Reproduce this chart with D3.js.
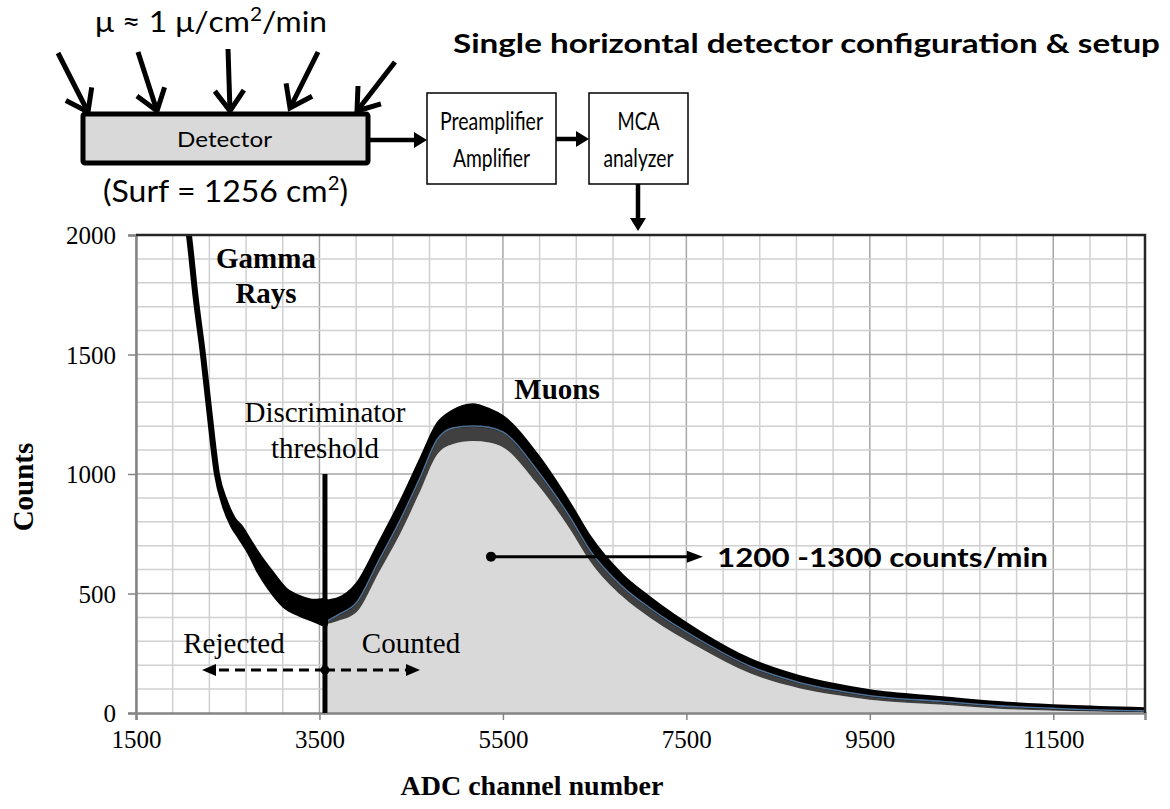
<!DOCTYPE html>
<html>
<head>
<meta charset="utf-8">
<script src="https://cdn.jsdelivr.net/npm/d3@7"></script>
<style>
  body { margin: 0; background: #fff; }
  svg { display: block; }
</style>
</head>
<body>
<div id="main"></div>
<script>
// ---- data ----
const xTicks = [1500, 3500, 5500, 7500, 9500, 11500];
const yTicks = [0, 500, 1000, 1500, 2000];
const threshold = 3560;

// gamma-ray part of the trace (left of the threshold)
const gammaCh    = [2040, 2077, 2150, 2230, 2300, 2382, 2470, 2557, 2640, 2742, 2851, 2960, 3123, 3287, 3450, 3560];
const gammaUpper = [2100, 2000, 1740, 1500, 1260, 1000, 885, 812, 775, 712, 648, 592, 515, 480, 465, 470];
const gammaLower = [2100, 2000, 1740, 1500, 1260, 1000, 865, 785, 735, 672, 590, 525, 450, 415, 390, 372];

// muon peak (right of the threshold): noisy upper edge, fit, noisy lower edge
const muonCh    = [3560, 3700, 3900, 4150, 4380, 4600, 4780, 4950, 5170, 5350, 5500, 5870, 6230, 6450, 6800, 7100, 7650, 8200, 8730, 9100, 9500, 10300, 10900, 11650, 12500];
const muonUpper = [470, 480, 540, 715, 885, 1065, 1210, 1265, 1292, 1272, 1242, 1085, 880, 740, 580, 485, 340, 225, 155, 122, 95, 66, 46, 30, 20];
const muonFit   = [380, 410, 460, 640, 807, 987, 1142, 1192, 1201, 1195, 1176, 1017, 820, 680, 530, 440, 305, 195, 128, 97, 72, 48, 30, 17, 9];
const muonLower = [370, 385, 420, 590, 750, 930, 1080, 1125, 1138, 1132, 1112, 960, 770, 635, 488, 400, 272, 165, 104, 77, 55, 34, 18, 8, 3];

const rateLabel = "1200 -1300 counts/min";
const rateAt = [5370, 650];   // dot of the rate arrow (channel, counts)
const rateTo = 7680;

// ---- layout ----
const W = 1170, H = 809;
const serif = "'Liberation Serif','Times New Roman',serif";
const sans = "Lato,'Open Sans',sans-serif";

const svg = d3.select("#main").append("svg")
  .attr("width", W).attr("height", H);

const x = d3.scaleLinear().domain([1500, 12500]).range([136, 1145]);
const y = d3.scaleLinear().domain([0, 2000]).range([713, 235]);

svg.append("clipPath").attr("id", "clip")
  .append("rect").attr("x", 136).attr("y", 235).attr("width", 1009).attr("height", 478);

// gridlines
const grid = svg.append("g");
grid.selectAll(".vx").data(d3.range(1500, 12500, 400)).enter().append("line")
  .attr("x1", d => x(d)).attr("x2", d => x(d)).attr("y1", y(0)).attr("y2", y(2000))
  .attr("stroke", d => (d - 1500) % 2000 === 0 ? "#a6a6a6" : "#d0d0d0")
  .attr("stroke-width", 1.5);
grid.selectAll(".hy").data(d3.range(100, 2000, 100)).enter().append("line")
  .attr("x1", x(1500)).attr("x2", x(12500)).attr("y1", d => y(d)).attr("y2", d => y(d))
  .attr("stroke", d => d % 500 === 0 ? "#a6a6a6" : "#d0d0d0")
  .attr("stroke-width", 1.5);

const plot = svg.append("g").attr("clip-path", "url(#clip)");
const muon = muonCh.map((c, i) => ({c, u: muonUpper[i], f: muonFit[i], l: muonLower[i]}));
const gamma = gammaCh.map((c, i) => ({c, u: gammaUpper[i], l: gammaLower[i]}));
const curve = d3.curveMonotoneX;

// counted region fill
plot.append("path").datum(muon)
  .attr("d", d3.area().x(d => x(d.c)).y0(y(0)).y1(d => y(d.l)).curve(curve))
  .attr("fill", "#d9d9d9");
// lower noisy band
plot.append("path").datum(muon)
  .attr("d", d3.area().x(d => x(d.c)).y0(d => y(d.l)).y1(d => y(d.f)).curve(curve))
  .attr("fill", "#404040");
// upper noisy band
plot.append("path").datum(muon)
  .attr("d", d3.area().x(d => x(d.c)).y0(d => y(d.f)).y1(d => y(d.u)).curve(curve))
  .attr("fill", "#000").attr("stroke", "#000").attr("stroke-width", 2);
// fit
plot.append("path").datum(muon)
  .attr("d", d3.line().x(d => x(d.c)).y(d => y(d.f)).curve(curve))
  .attr("fill", "none").attr("stroke", "#4f6f92").attr("stroke-width", 1.6);
// gamma rays
plot.append("path").datum(gamma)
  .attr("d", d3.area().x(d => x(d.c)).y0(d => y(d.l)).y1(d => y(d.u)).curve(curve))
  .attr("fill", "#000").attr("stroke", "#000").attr("stroke-width", 6).attr("stroke-linejoin", "round");

// axes
const xAxis = svg.append("g").attr("transform", `translate(0,${y(0)})`)
  .call(d3.axisBottom(x).tickValues(xTicks).tickSize(7).tickPadding(10).tickFormat(d3.format("d")));
const yAxis = svg.append("g").attr("transform", `translate(${x(1500)},0)`)
  .call(d3.axisLeft(y).tickValues(yTicks).tickSize(8).tickPadding(12).tickFormat(d3.format("d")));
[xAxis, yAxis].forEach(a => {
  a.select(".domain").attr("stroke", "#858585").attr("stroke-width", 2.5);
  a.selectAll(".tick line").attr("stroke", "#858585").attr("stroke-width", 1.5);
  a.selectAll("text").attr("font-family", serif).attr("font-size", 25).attr("fill", "#000");
});
yAxis.selectAll("text").attr("dy", "0.35em");
// top / right border
svg.append("path")
  .attr("d", `M${x(1500)},${y(2000)}H${x(12500)}V${y(0)}`)
  .attr("fill", "none").attr("stroke", "#262626").attr("stroke-width", 2.5);

// threshold
svg.append("line")
  .attr("x1", x(threshold)).attr("x2", x(threshold)).attr("y1", y(1000)).attr("y2", y(0))
  .attr("stroke", "#000").attr("stroke-width", 5);

// axis titles
svg.append("text").attr("x", 532).attr("y", 795).attr("text-anchor", "middle")
  .attr("font-family", serif).attr("font-weight", "bold").attr("font-size", 28)
  .text("ADC channel number");
svg.append("text").attr("transform", "translate(33,487) rotate(-90)").attr("text-anchor", "middle")
  .attr("font-family", serif).attr("font-weight", "bold").attr("font-size", 29)
  .text("Counts");

// annotations in the plot
const ann = (t, px, py, bold) => svg.append("text").attr("x", px).attr("y", py)
  .attr("text-anchor", "middle").attr("font-family", serif).attr("font-size", 29)
  .attr("font-weight", bold ? "bold" : "normal").text(t);
ann("Gamma", 266, 268, true);
ann("Rays", 266, 303, true);
ann("Muons", 557, 399, true);
ann("Discriminator", 325, 422);
ann("threshold", 325, 458);
ann("Rejected", 234, 653);
ann("Counted", 411, 653);

// rejected / counted dashed arrows
const ya = 670, xt = x(threshold);
svg.append("line").attr("x1", xt).attr("x2", 212).attr("y1", ya).attr("y2", ya)
  .attr("stroke", "#000").attr("stroke-width", 3).attr("stroke-dasharray", "10,6");
svg.append("line").attr("x1", xt).attr("x2", 410).attr("y1", ya).attr("y2", ya)
  .attr("stroke", "#000").attr("stroke-width", 3).attr("stroke-dasharray", "10,6");
svg.append("path").attr("d", `M202,${ya}l14,-6v12z`).attr("fill", "#000");
svg.append("path").attr("d", `M420,${ya}l-14,-6v12z`).attr("fill", "#000");
svg.append("circle").attr("cx", xt).attr("cy", ya).attr("r", 4.5).attr("fill", "#000");

// rate arrow
const rx0 = x(rateAt[0]), ry = y(rateAt[1]) - 1, rx1 = x(rateTo);
svg.append("line").attr("x1", rx0).attr("x2", rx1 - 12).attr("y1", ry).attr("y2", ry)
  .attr("stroke", "#000").attr("stroke-width", 3);
svg.append("path").attr("d", `M${rx1},${ry}l-16,-6v12z`).attr("fill", "#000");
svg.append("circle").attr("cx", rx0).attr("cy", ry).attr("r", 5).attr("fill", "#000");
svg.append("text").attr("x", 717).attr("y", 567)
  .attr("font-family", sans).attr("font-weight", "bold").attr("font-size", 27)
  .attr("textLength", 331).attr("lengthAdjust", "spacingAndGlyphs")
  .text(rateLabel);

// ---- setup diagram ----
const dg = svg.append("g");
dg.append("text").attr("x", 453).attr("y", 53)
  .attr("font-family", sans).attr("font-weight", "bold").attr("font-size", 27)
  .attr("textLength", 707).attr("lengthAdjust", "spacingAndGlyphs")
  .text("Single horizontal detector configuration & setup");

const flux = dg.append("text").attr("x", 95).attr("y", 32)
  .attr("font-family", sans).attr("font-size", 29)
  .attr("textLength", 232).attr("lengthAdjust", "spacingAndGlyphs");
flux.append("tspan").text("\u03bc \u2248 1 \u03bc/cm");
flux.append("tspan").attr("font-size", 19).attr("dy", -11).text("2");
flux.append("tspan").attr("dy", 11).text("/min");

// incoming muon arrows (open heads)
const incoming = [[58, 53, 88, 112], [138, 52, 157, 111], [228, 49, 230, 111], [318, 52, 290, 108], [395, 62, 357, 111]];
incoming.forEach(([x1, y1, x2, y2]) => {
  const a = Math.atan2(y2 - y1, x2 - x1), L = 25, w = 0.62;
  dg.append("line").attr("x1", x1).attr("y1", y1).attr("x2", x2).attr("y2", y2)
    .attr("stroke", "#000").attr("stroke-width", 5);
  dg.append("path")
    .attr("d", `M${x2 - L * Math.cos(a - w)},${y2 - L * Math.sin(a - w)}L${x2},${y2}L${x2 - L * Math.cos(a + w)},${y2 - L * Math.sin(a + w)}`)
    .attr("fill", "none").attr("stroke", "#000").attr("stroke-width", 5).attr("stroke-linejoin", "miter");
});

// detector
dg.append("rect").attr("x", 83).attr("y", 114).attr("width", 285).attr("height", 49).attr("rx", 2)
  .attr("fill", "#d9d9d9").attr("stroke", "#000").attr("stroke-width", 5);
dg.append("text").attr("x", 177).attr("y", 147)
  .attr("font-family", sans).attr("font-size", 22)
  .attr("textLength", 95).attr("lengthAdjust", "spacingAndGlyphs").text("Detector");
const surf = dg.append("text").attr("x", 103).attr("y", 202)
  .attr("font-family", sans).attr("font-size", 30)
  .attr("textLength", 245).attr("lengthAdjust", "spacingAndGlyphs");
surf.append("tspan").text("(Surf = 1256 cm");
surf.append("tspan").attr("font-size", 19).attr("dy", -12).text("2");
surf.append("tspan").attr("dy", 12).text(")");

// boxes
const boxes = [
  {x: 427, w: 129, lines: [["Preamplifier", 103], ["Amplifier", 77]]},
  {x: 589, w: 99, lines: [["MCA", 42], ["analyzer", 70]]}
];
boxes.forEach(b => {
  dg.append("rect").attr("x", b.x).attr("y", 93).attr("width", b.w).attr("height", 91)
    .attr("fill", "#fff").attr("stroke", "#000").attr("stroke-width", 1.5);
  b.lines.forEach(([t, len], i) => dg.append("text").attr("x", b.x + (b.w - len) / 2).attr("y", 130 + i * 37)
    .attr("font-family", sans).attr("font-size", 25)
    .attr("textLength", len).attr("lengthAdjust", "spacingAndGlyphs").text(t));
});

// connecting arrows (filled heads)
const hArrow = (x1, x2, yy) => {
  dg.append("line").attr("x1", x1).attr("x2", x2 - 10).attr("y1", yy).attr("y2", yy)
    .attr("stroke", "#000").attr("stroke-width", 4.5);
  dg.append("path").attr("d", `M${x2},${yy}l-13,-8v16z`).attr("fill", "#000");
};
hArrow(370, 427, 140);
hArrow(556, 589, 139);
dg.append("line").attr("x1", 638).attr("x2", 638).attr("y1", 184).attr("y2", 220)
  .attr("stroke", "#000").attr("stroke-width", 4.5);
dg.append("path").attr("d", "M638,231l-8,-13h16z").attr("fill", "#000");
</script>
</body>
</html>
